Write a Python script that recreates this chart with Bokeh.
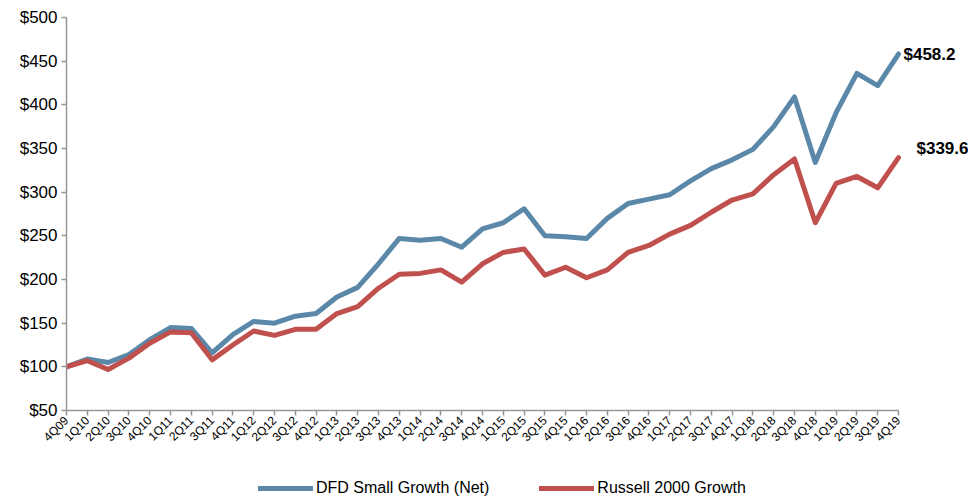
import math
from bokeh.plotting import figure
from bokeh.layouts import column
from bokeh.models import (Range1d, FixedTicker, NumeralTickFormatter, Legend,
                          LegendItem, Label, ColumnDataSource)
from bokeh.embed import file_html
from bokeh.resources import INLINE

quarters = ["4Q09", "1Q10", "2Q10", "3Q10", "4Q10", "1Q11", "2Q11", "3Q11", "4Q11",
            "1Q12", "2Q12", "3Q12", "4Q12", "1Q13", "2Q13", "3Q13", "4Q13",
            "1Q14", "2Q14", "3Q14", "4Q14", "1Q15", "2Q15", "3Q15", "4Q15",
            "1Q16", "2Q16", "3Q16", "4Q16", "1Q17", "2Q17", "3Q17", "4Q17",
            "1Q18", "2Q18", "3Q18", "4Q18", "1Q19", "2Q19", "3Q19", "4Q19"]

dfd_small_growth = [100, 109, 105, 114, 131, 145, 144, 116, 137, 152, 150, 158, 161,
                    180, 191, 218, 247, 245, 247, 237, 258, 265, 281, 250, 249, 247,
                    270, 287, 292, 297, 313, 327, 337, 349, 375, 409, 334, 391, 436,
                    422, 458.2]

russell_2000_growth = [100, 107, 97, 110, 127, 140, 139, 108, 125, 141, 136, 143, 143,
                       161, 169, 190, 206, 207, 211, 197, 218, 231, 235, 205, 214, 202,
                       211, 231, 239, 252, 262, 277, 291, 298, 320, 338, 265, 310, 318,
                       305, 339.6]

series_names = ["DFD Small Growth (Net)", "Russell 2000 Growth"]

y_ticks = [50, 100, 150, 200, 250, 300, 350, 400, 450, 500]

BLUE = "#5B88A9"
RED = "#C0504D"
AXIS = "#969696"
FONT = "Liberation Sans"

x = list(range(len(quarters)))
src = ColumnDataSource(dict(x=x, dfd=dfd_small_growth, r2g=russell_2000_growth))

W = 968
H_MAIN, H_LEG = 477, 20
LEFT, TOP = 66, 17
FRAME_BOTTOM = 410
PX_PER_Q = 20.8
x_end = (W - LEFT) / PX_PER_Q

p = figure(width=W, height=H_MAIN, output_backend="svg", toolbar_location=None,
           x_range=Range1d(0, x_end), y_range=Range1d(50, 500),
           min_border_left=LEFT, min_border_right=0, min_border_top=TOP,
           min_border_bottom=H_MAIN - FRAME_BOTTOM)
p.outline_line_color = None
p.xgrid.visible = False
p.ygrid.visible = False
p.background_fill_color = "white"

r1 = p.line("x", "dfd", source=src, line_color=BLUE, line_width=5, line_join="round",
            line_cap="round")
r2 = p.line("x", "r2g", source=src, line_color=RED, line_width=5, line_join="round",
            line_cap="round")

# axes
p.yaxis.ticker = FixedTicker(ticks=y_ticks)
p.yaxis.formatter = NumeralTickFormatter(format="$0")
p.xaxis.ticker = FixedTicker(ticks=x)
p.xaxis.bounds = (x[0], x[-1])
p.xaxis.major_label_overrides = {i: q for i, q in zip(x, quarters)}
p.xaxis.major_label_orientation = math.pi / 4
for ax in (p.xaxis, p.yaxis):
    ax.axis_line_color = AXIS
    ax.axis_line_width = 1.5
    ax.major_tick_line_color = AXIS
    ax.major_tick_line_width = 1.5
    ax.major_tick_out = 5
    ax.major_tick_in = 0
    ax.minor_tick_line_color = None
    ax.major_label_text_font = FONT
    ax.major_label_text_color = "#000000"
p.yaxis.major_label_text_font_size = "17px"
p.yaxis.major_label_standoff = 4
p.xaxis.major_label_text_font_size = "12px"
p.xaxis.major_label_standoff = 3

# end labels
p.add_layout(Label(x=x[-1], y=dfd_small_growth[-1], text=f"${dfd_small_growth[-1]:.1f}",
                   x_offset=5, y_offset=0, text_baseline="middle",
                   text_font=FONT, text_font_size="17px", text_font_style="bold",
                   text_color="black"))
p.add_layout(Label(x=x[-1], y=russell_2000_growth[-1],
                   text=f"${russell_2000_growth[-1]:.1f}",
                   x_offset=18, y_offset=9, text_baseline="middle",
                   text_font=FONT, text_font_size="17px", text_font_style="bold",
                   text_color="black"))

# legend strip (its lines lie outside its tiny view; only the legend shows)
lp = figure(width=W, height=H_LEG, output_backend="svg", toolbar_location=None,
            x_axis_type=None, y_axis_type=None, x_range=Range1d(0, 1),
            y_range=Range1d(0, 1), min_border=0)
lp.outline_line_color = None
lp.xgrid.visible = False
lp.ygrid.visible = False
lr1 = lp.line("x", "dfd", source=src, line_color=BLUE, line_width=5, line_cap="round")
lr2 = lp.line("x", "r2g", source=src, line_color=RED, line_width=5, line_cap="round")
legend = Legend(items=[LegendItem(label=series_names[0], renderers=[lr1]),
                       LegendItem(label=series_names[1], renderers=[lr2])],
                orientation="horizontal", location=(192, 0),
                glyph_width=55, glyph_height=16, label_standoff=3, spacing=50,
                padding=0, margin=0, border_line_color=None,
                background_fill_alpha=0,
                label_text_font=FONT, label_text_font_size="16px",
                label_text_color="black")
lp.add_layout(legend, "center")

layout = column(p, lp, spacing=0)
open("out.html", "w").write(file_html(layout, INLINE))
